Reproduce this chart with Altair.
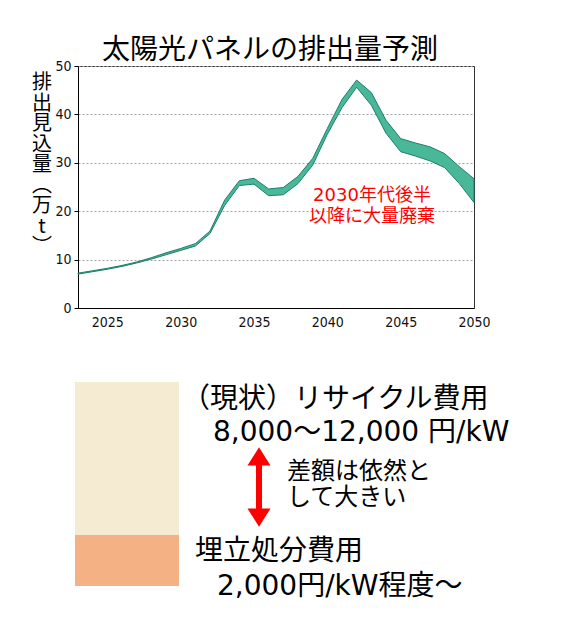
import altair as alt
import pandas as pd

# ---- data ----
years = list(range(2023, 2051))
upper = [7.2, 7.7, 8.2, 8.8, 9.5, 10.4, 11.4, 12.3, 13.3, 15.9, 22.3, 26.3, 26.8, 24.6,
         24.9, 27.2, 30.9, 37.1, 43.1, 47.1, 44.5, 38.8, 35.0, 34.1, 33.3, 31.9, 29.2, 26.7]
lower = [7.0, 7.5, 8.0, 8.6, 9.3, 10.1, 11.0, 11.9, 12.8, 15.4, 21.2, 25.3, 25.6, 23.2,
         23.4, 25.7, 29.5, 35.9, 41.4, 45.6, 41.9, 36.1, 32.3, 31.4, 30.4, 29.0, 25.7, 21.8]
x_ticks = [2025, 2030, 2035, 2040, 2045, 2050]
y_ticks = [0, 10, 20, 30, 40, 50]

cost_items = ["埋立処分費用", "リサイクル費用"]
cost_start = [0, 2000]
cost_end = [2000, 8000]
cost_colors = ["#F4B183", "#F5EBD2"]

title_text = "太陽光パネルの排出量予測"
y_title_chars = ["排", "出", "見", "込", "量", "︵", "万", "t", "︶"]
note_lines = ["2030年代後半", "以降に大量廃棄"]
recycle_l1 = "（現状）リサイクル費用"
recycle_l2 = "8,000～12,000 円/kW"
diff_lines = ["差額は依然と", "して大きい"]
landfill_l1 = "埋立処分費用"
landfill_l2 = "2,000円/kW程度～"

JP = "Noto Sans CJK JP"
MIX = "DejaVu Sans, Noto Sans CJK JP"
NUM = "Liberation Sans Narrow, DejaVu Sans Condensed, sans-serif"

band = pd.DataFrame({"year": years, "upper": upper, "lower": lower})
cost = pd.DataFrame({"item": cost_items, "start": cost_start, "end": cost_end})
one = pd.DataFrame({"k": [0]})

area = alt.Chart(band).mark_area(fill="#48B899", stroke="#1E7F6C", strokeWidth=1, opacity=1).encode(
    x=alt.X("year:Q", scale=alt.Scale(domain=[2023, 2050], nice=False, zero=False),
            axis=alt.Axis(values=x_ticks, format="d", title=None, ticks=False, labelPadding=7,
                          labelFlush=False, labelOverlap=False, grid=False, domainColor="black",
                          labelFont=NUM, labelFontSize=14, labelColor="#111")),
    y=alt.Y("upper:Q", scale=alt.Scale(domain=[0, 50], nice=False),
            axis=alt.Axis(values=y_ticks, title=None, grid=True, gridDash=[2, 2], gridColor="#A0A0A0",
                          tickSize=4, tickColor="black", labelPadding=3, domainColor="black",
                          labelFont=NUM, labelFontSize=14, labelColor="#111")),
    y2="lower:Q",
)


def txt(text, x, y, size, color="black", align="left", font=JP, lh=None):
    kw = dict(fontSize=size, color=color, align=align, baseline="middle", font=font)
    if lh is not None:
        kw["lineHeight"] = lh
    return alt.Chart(one).mark_text(**kw).encode(
        x=alt.value(x), y=alt.value(y), text=alt.value(text))


top = alt.layer(
    area,
    txt(title_text, 192, -15, 28, align="center"),
    txt(y_title_chars, -36, 17, 20, align="center", lh=20.5),
    txt(note_lines, 294, 130, 18, color="#FF0000", align="center", font=MIX, lh=21),
)

bars = alt.Chart(cost).mark_rect().encode(
    x=alt.value(-3), x2=alt.value(101),
    y=alt.Y("start:Q", scale=alt.Scale(domain=[0, 8000], range=[520, 316]), axis=None),
    y2="end:Q",
    color=alt.Color("item:N", scale=alt.Scale(domain=cost_items, range=cost_colors), legend=None),
)

shaft = alt.Chart(one).mark_rule(color="#FF0000", strokeWidth=6).encode(
    x=alt.value(181), y=alt.value(397), y2=alt.value(445))
head_up = alt.Chart(one).mark_point(shape="M-1,0.4L1,0.4L0,-1.2Z", size=529, filled=True,
                                    color="#FF0000", opacity=1).encode(x=alt.value(181), y=alt.value(395))
head_dn = alt.Chart(one).mark_point(shape="M-1,-0.4L1,-0.4L0,1.2Z", size=529, filled=True,
                                    color="#FF0000", opacity=1).encode(x=alt.value(181), y=alt.value(447))

bottom = alt.layer(
    bars, shaft, head_up, head_dn,
    txt(recycle_l1, 104, 334, 28, font=MIX),
    txt(recycle_l2, 135, 367, 28, font=MIX),
    txt(diff_lines, 209, 406, 24, font=MIX, lh=26),
    txt(landfill_l1, 117, 486, 28, font=MIX),
    txt(landfill_l2, 139, 521, 28, font=MIX),
)

chart = alt.layer(top, bottom).resolve_scale(y="independent").properties(
    width=396, height=242,
    autosize=alt.AutoSizeParams(type="none"),
    padding={"left": 78, "top": 66, "right": 87, "bottom": 333},
    background="white",
).configure_view(stroke="#333333", strokeWidth=1)

chart.save("out.html", embed_options={"renderer": "svg", "actions": False})
